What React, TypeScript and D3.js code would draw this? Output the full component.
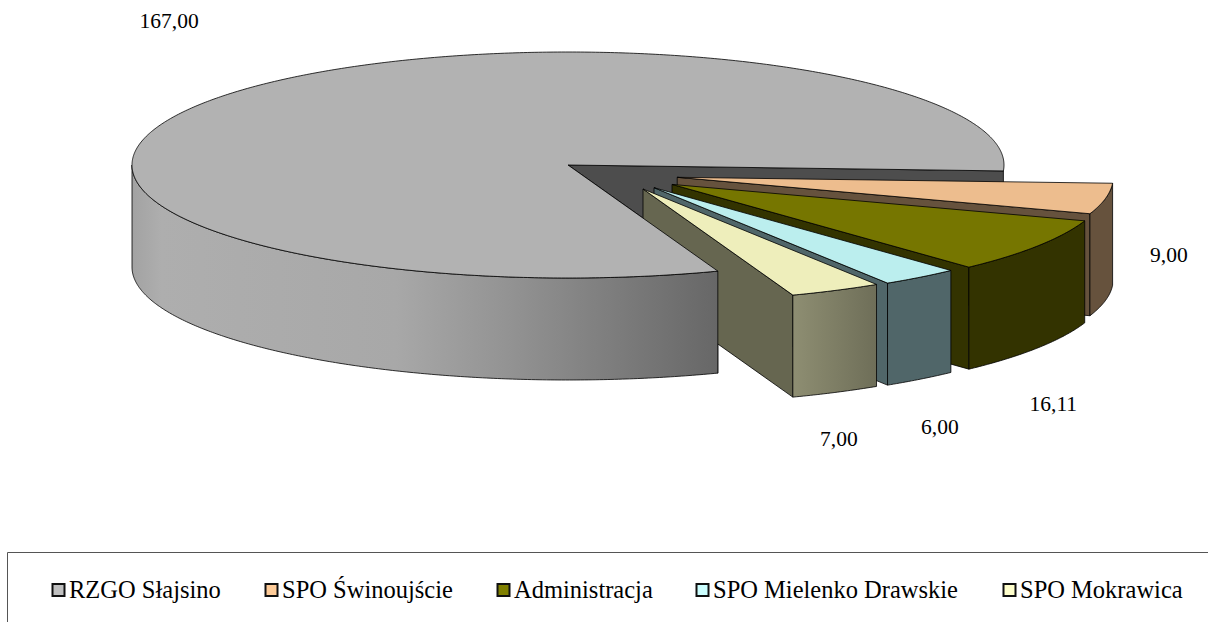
import React from "react";
import * as d3 from "d3";

const categories = ["RZGO Słajsino", "SPO Świnoujście", "Administracja", "SPO Mielenko Drawskie", "SPO Mokrawica"];
const values = [167, 9, 16.11, 6, 7];
const valueLabels = ["167,00", "9,00", "16,11", "6,00", "7,00"];
const legendColors = ["#C0C0C0", "#FFCC99", "#808000", "#CCFFFF", "#FFFFCC"];
const topColors = ["#B2B2B2", "#EDBD8E", "#767600", "#BBEEEE", "#EEEEBB"];
const sideColors = ["#4D4D4D", "#66523D", "#333300", "#506669", "#666650"];

const offsets: [number, number][] = [[0, 0], [109.2, 12.3], [104, 19.4], [86, 22.7], [75, 24]];
const labelPos: [number, number][] = [[139.5, 28], [1150, 261.5], [1029.5, 410.5], [921, 434], [820, 446]];
const legendSwatchX = [51, 264, 496, 695, 1002];

const cx = 568, cy = 165, rx = 436, ry = 113, depth = 102;
const DEG = Math.PI / 180;
const pieGen = d3.pie<number>().sort(null).startAngle(159.9 * DEG).endAngle(519.9 * DEG);
const arcs = pieGen(values);
const line = d3.line<[number, number]>();

function pt(a: number, ox: number, oy: number, dz = 0): [number, number] {
  return [cx + ox + rx * Math.sin(a), cy + oy - ry * Math.cos(a) + dz];
}
function arcPts(a0: number, a1: number, ox: number, oy: number, dz = 0) {
  const n = Math.max(2, Math.ceil(Math.abs(a1 - a0) / (0.5 * DEG)));
  return d3.range(n + 1).map((i) => pt(a0 + ((a1 - a0) * i) / n, ox, oy, dz));
}
const topPath = (a0: number, a1: number, ox: number, oy: number) =>
  line([[cx + ox, cy + oy], ...arcPts(a0, a1, ox, oy)])! + "Z";
const wallPath = (a0: number, a1: number, ox: number, oy: number) =>
  line([...arcPts(a0, a1, ox, oy), ...arcPts(a1, a0, ox, oy, depth)])! + "Z";
const radialPath = (a: number, ox: number, oy: number) =>
  line([[cx + ox, cy + oy], pt(a, ox, oy), pt(a, ox, oy, depth), [cx + ox, cy + oy + depth]])! + "Z";

const S = { stroke: "#000", strokeWidth: 0.8, strokeLinejoin: "round" as const };
const font = "'Liberation Serif', 'Times New Roman', serif";

export default function App() {
  const main = arcs[0];
  return (
    <svg width={1208} height={622} style={{ position: "absolute", left: 0, top: 0, display: "block", background: "#fff" }}>
      <defs>
        <linearGradient id="mainWall" gradientUnits="userSpaceOnUse" x1={132} x2={718} y1={0} y2={0}>
          <stop offset="0" stopColor="#A2A2A2" />
          <stop offset="0.05" stopColor="#AEAEAE" />
          <stop offset="0.45" stopColor="#A8A8A8" />
          <stop offset="0.65" stopColor="#929292" />
          <stop offset="1" stopColor="#676767" />
        </linearGradient>
        <linearGradient id="mokWall" gradientUnits="userSpaceOnUse" x1={793} x2={877} y1={0} y2={0}>
          <stop offset="0" stopColor="#8E8E72" />
          <stop offset="1" stopColor="#6E6E58" />
        </linearGradient>
      </defs>

      {/* inner faces of the main slice */}
      <path d={radialPath(main.endAngle, 0, 0)} fill={sideColors[0]} {...S} />
      <path d={radialPath(main.startAngle, 0, 0)} fill={sideColors[0]} {...S} />

      {/* exploded slices, back to front */}
      {arcs.slice(1).map((d, k) => {
        const i = k + 1;
        const [ox, oy] = offsets[i];
        return (
          <g key={categories[i]}>
            <path d={radialPath(d.endAngle, ox, oy)} fill={sideColors[i]} {...S} />
            <path d={wallPath(d.startAngle, d.endAngle, ox, oy)} fill={i === 4 ? "url(#mokWall)" : sideColors[i]} {...S} />
            <path d={topPath(d.startAngle, d.endAngle, ox, oy)} fill={topColors[i]} {...S} />
          </g>
        );
      })}

      {/* main slice last */}
      <path d={wallPath(main.startAngle, 270 * DEG, 0, 0)} fill="url(#mainWall)" {...S} />
      <path d={topPath(main.startAngle, main.endAngle, 0, 0)} fill={topColors[0]} {...S} />

      {valueLabels.map((t, i) => (
        <text key={t} x={labelPos[i][0]} y={labelPos[i][1]} fontFamily={font} fontSize={21.5} fill="#000">{t}</text>
      ))}

      {/* legend frame */}
      <path d="M1208,552.5H7.5V622" fill="none" stroke="#555" strokeWidth={1} />
      {categories.map((c, i) => (
        <g key={c}>
          <rect x={legendSwatchX[i] + 1.5} y={584} width={12} height={12} fill={legendColors[i]} stroke="#111" strokeWidth={2} />
          <text x={legendSwatchX[i] + 18} y={598} fontFamily={font} fontSize={24.5} fill="#000">{c}</text>
        </g>
      ))}
    </svg>
  );
}
